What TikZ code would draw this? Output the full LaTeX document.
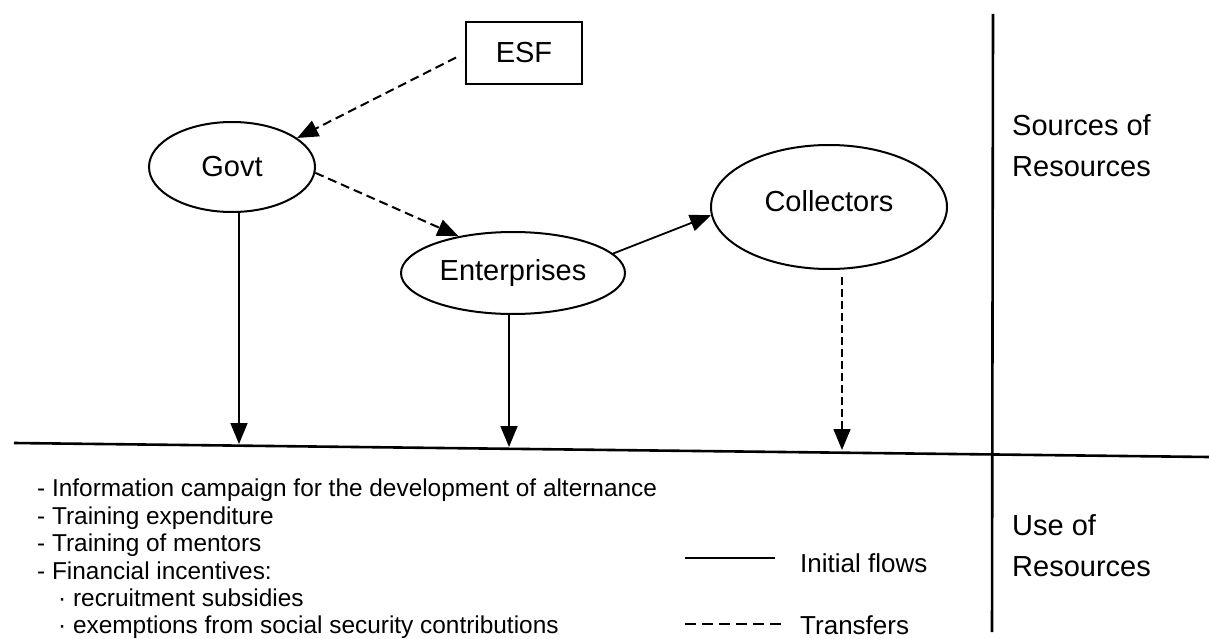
\documentclass[tikz,border=0pt]{standalone}
\usepackage{fontspec}
\setmainfont{Liberation Sans}
\usetikzlibrary{arrows.meta,shapes.geometric}
\tikzset{
  lbl/.style={font=\fontsize{29}{41}\selectfont, inner sep=0pt},
  oval/.style={ellipse, draw, line width=2pt, inner sep=0pt, font=\fontsize{29}{34}\selectfont},
  box/.style={rectangle, draw, line width=2pt, inner sep=0pt, font=\fontsize{29}{34}\selectfont},
  tip/.style={-{Triangle[length=21pt,width=17pt]}},
  flow/.style={line width=1.8pt, tip},
  transfer/.style={line width=2pt, dash pattern=on 9pt off 5pt, tip},
  finetransfer/.style={line width=1.7pt, dash pattern=on 8pt off 4pt, tip},
  listtxt/.style={anchor=north west, inner sep=0pt, align=left, font=\fontsize{24.4}{27.4}\selectfont},
  legtxt/.style={anchor=west, inner sep=0pt, font=\fontsize{26}{30}\selectfont},
  rule/.style={line width=2.6pt},
}
\begin{document}
\begin{tikzpicture}[x=1pt,y=-1pt]
\useasboundingbox (0,0) rectangle (1209,639);
% nodes
\node[box, minimum width=116pt, minimum height=62pt] (ESF) at (524,53) {ESF};
\node[oval, minimum width=166pt, minimum height=90pt] (Govt) at (232,167) {Govt};
\node[oval, minimum width=224pt, minimum height=82pt] (Ent) at (513,273) {Enterprises};
\node[oval, minimum width=236pt, minimum height=124pt] (Coll) at (829,207) {\raisebox{12pt}{Collectors}\hspace{12pt}};
% dividing lines
\coordinate (hl) at (14,443);
\coordinate (hr) at (1209,457);
\coordinate (vt) at (993,14);
\coordinate (vb) at (992,632);
\draw[rule] (hl) -- (hr);
\draw[rule] (vt) -- (vb);
% targets on the horizontal line
\coordinate (g1) at (239,444);
\coordinate (e1) at (509,447);
\coordinate (c0) at (842,277);
\coordinate (c1) at (842,450);
% connectors
\draw[transfer, shorten <=10pt] (ESF.west) -- (Govt.24);
\draw[transfer] (Govt.-4) -- (Ent.146);
\draw[flow] (Ent.11) -- (Coll.184);
\draw[flow] (Govt.south -| g1) -- (g1);
\draw[flow] (Ent.south -| e1) -- (e1);
\draw[finetransfer] (c0) -- (c1);
% side labels
\node[lbl, anchor=west, align=left] (src) at (1012,146) {Sources of\\Resources};
\node[lbl, anchor=west, align=left] (use) at (1012,546) {Use of\\Resources};
% list
\node[listtxt] (list) at (37,479) {- Information campaign for the development of alternance\\
- Training expenditure\\
- Training of mentors\\
- Financial incentives:\\
\hspace*{21pt}· recruitment subsidies\\
\hspace*{21pt}· exemptions from social security contributions};
% legend
\coordinate (s1) at (685,558);
\coordinate (s2) at (775,558);
\coordinate (d1) at (685,624);
\coordinate (d2) at (783,624);
\draw[line width=1.8pt] (s1) -- (s2);
\draw[line width=1.8pt, dash pattern=on 11pt off 6pt] (d1) -- (d2);
\node[legtxt] (lg1) at (800,563) {Initial flows};
\node[legtxt] (lg2) at (800,625) {Transfers};
\end{tikzpicture}
\end{document}
